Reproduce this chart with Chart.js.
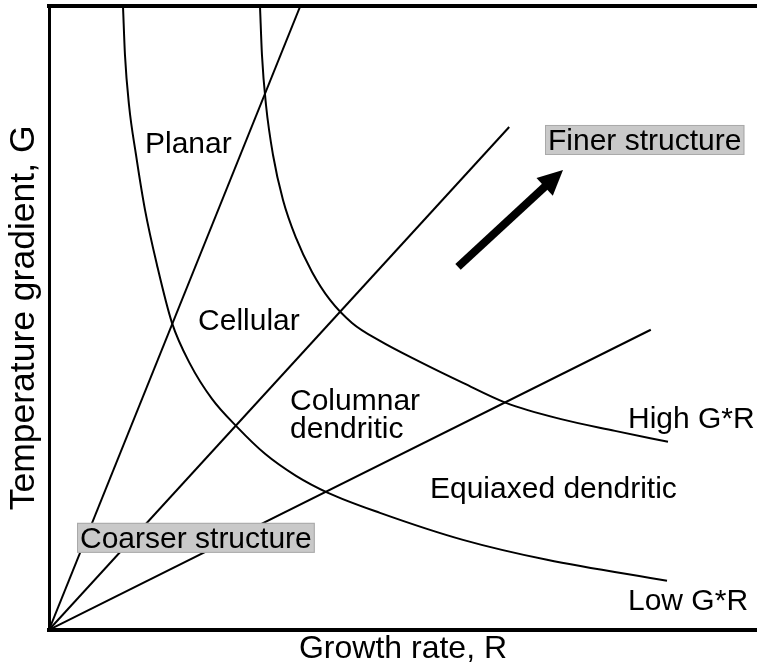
<!DOCTYPE html>
<html>
<head>
<meta charset="utf-8">
<script src="https://cdn.jsdelivr.net/npm/chart.js@4.4.1/dist/chart.umd.min.js"></script>
<style>
  html, body { margin: 0; padding: 0; background: #ffffff; }
  #wrap { width: 757px; height: 667px; }
</style>
</head>
<body>
<div id="wrap"><canvas id="c" width="757" height="667"></canvas></div>
<script>
// ---- Data (arbitrary units: growth rate R on x, temperature gradient G on y, both 0..10) ----
const axisTitles = { x: 'Growth rate, R', y: 'Temperature gradient, G' };

// Straight G/R boundaries from the origin
const lineSteepR = [0, 3.55];
const lineSteepG = [0, 10.0];
const lineMidR   = [0, 6.50];
const lineMidG   = [0, 8.06];
const lineLowR   = [0, 8.50];
const lineLowG   = [0, 4.81];

// G*R = const curves
const lowGRr = [1.045, 1.073, 1.130, 1.229, 1.356, 1.525, 1.737, 1.992, 2.302, 2.655, 3.051, 3.489, 3.941, 4.675, 5.847, 7.034, 8.729];
const lowGRg = [10.00, 9.215, 8.413, 7.612, 6.731, 5.849, 4.920, 4.263, 3.702, 3.253, 2.821, 2.468, 2.196, 1.875, 1.442, 1.122, 0.785];
const highGRr = [2.980, 3.008, 3.065, 3.164, 3.305, 3.489, 3.715, 3.969, 4.280, 4.675, 5.240, 5.847, 6.455, 7.218, 7.994, 8.743];
const highGRg = [10.00, 9.215, 8.413, 7.612, 6.891, 6.282, 5.737, 5.288, 4.920, 4.631, 4.295, 3.958, 3.638, 3.381, 3.189, 3.013];

// Region / curve labels (anchor = left end of baseline, in data units)
const labelTexts = ['Planar', 'Cellular', 'Columnar', 'dendritic', 'Equiaxed dendritic', 'High G*R', 'Low G*R'];
const labelR     = [1.356, 2.105, 3.404, 3.404, 5.381, 8.178, 8.178];
const labelG     = [7.644, 4.808, 3.526, 3.077, 2.115, 3.237, 0.321];

// Boxed labels
const boxTexts = ['Finer structure', 'Coarser structure'];
const boxR     = [7.048, 0.438];
const boxG     = [7.692, 1.314];

// Arrow (tail -> tip)
const arrowR = [5.777, 7.260];
const arrowG = [5.817, 7.372];

function pts(xs, ys) { return xs.map((x, i) => ({ x: x, y: ys[i] })); }

const FONT = '"Liberation Sans", Arial, Helvetica, sans-serif';

const lineDs = (xs, ys, curve) => ({
  data: pts(xs, ys),
  showLine: true,
  borderColor: '#000',
  borderWidth: 2,
  pointRadius: 0,
  fill: false,
  cubicInterpolationMode: curve ? 'monotone' : 'default',
  tension: 0
});

const annotate = {
  id: 'annotate',
  afterDatasetsDraw(chart) {
    const ctx = chart.ctx;
    const xs = chart.scales.x, ys = chart.scales.y;
    ctx.save();
    // arrow
    const x0 = xs.getPixelForValue(arrowR[0]), y0 = ys.getPixelForValue(arrowG[0]);
    const x1 = xs.getPixelForValue(arrowR[1]), y1 = ys.getPixelForValue(arrowG[1]);
    const ang = Math.atan2(y1 - y0, x1 - x0);
    const headLen = 25, headHalf = 12;
    const bx = x1 - headLen * Math.cos(ang), by = y1 - headLen * Math.sin(ang);
    ctx.strokeStyle = '#000';
    ctx.lineWidth = 8;
    ctx.lineCap = 'butt';
    ctx.beginPath();
    ctx.moveTo(x0, y0);
    ctx.lineTo(bx + 2 * Math.cos(ang), by + 2 * Math.sin(ang));
    ctx.stroke();
    ctx.fillStyle = '#000';
    ctx.beginPath();
    ctx.moveTo(x1, y1);
    ctx.lineTo(bx + headHalf * Math.sin(ang), by - headHalf * Math.cos(ang));
    ctx.lineTo(bx - headHalf * Math.sin(ang), by + headHalf * Math.cos(ang));
    ctx.closePath();
    ctx.fill();

    // plain labels
    ctx.font = '30px ' + FONT;
    ctx.textAlign = 'left';
    ctx.textBaseline = 'alphabetic';
    ctx.fillStyle = '#000';
    labelTexts.forEach((t, i) => {
      ctx.fillText(t, xs.getPixelForValue(labelR[i]), ys.getPixelForValue(labelG[i]));
    });
    // boxed labels
    boxTexts.forEach((t, i) => {
      const px = xs.getPixelForValue(boxR[i]), py = ys.getPixelForValue(boxG[i]);
      const w = ctx.measureText(t).width;
      ctx.fillStyle = '#c9c9c9';
      ctx.fillRect(px - 3, py - 25, w + 6, 30);
      ctx.strokeStyle = '#a9a9a9';
      ctx.lineWidth = 1;
      ctx.strokeRect(px - 2.5, py - 24.5, w + 5, 29);
      ctx.fillStyle = '#000';
      ctx.fillText(t, px, py);
    });
    ctx.restore();
  }
};

new Chart(document.getElementById('c'), {
  type: 'scatter',
  data: {
    datasets: [
      lineDs(lineSteepR, lineSteepG, false),
      lineDs(lineMidR, lineMidG, false),
      lineDs(lineLowR, lineLowG, false),
      lineDs(lowGRr, lowGRg, true),
      lineDs(highGRr, highGRg, true)
    ]
  },
  options: {
    responsive: false,
    animation: false,
    layout: { padding: { top: 6, left: 0, right: 0, bottom: 0 } },
    plugins: { legend: { display: false }, tooltip: { enabled: false } },
    scales: {
      x: {
        type: 'linear', position: 'bottom', min: 0, max: 10,
        grid: { display: false, drawTicks: false },
        ticks: { display: false },
        border: { display: true, color: '#000', width: 4 },
        title: { display: true, text: axisTitles.x, color: '#000',
                 font: { family: FONT, size: 32, lineHeight: 1.1 }, padding: { top: 2, bottom: 0 } }
      },
      x2: {
        type: 'linear', position: 'top', min: 0, max: 10,
        grid: { display: false, drawTicks: false },
        ticks: { display: false },
        border: { display: true, color: '#000', width: 4 }
      },
      y: {
        type: 'linear', position: 'left', min: 0, max: 10,
        grid: { display: false, drawTicks: false },
        ticks: { display: false },
        border: { display: true, color: '#000', width: 3 },
        title: { display: true, text: axisTitles.y, color: '#000',
                 font: { family: FONT, size: 35.5, lineHeight: 1.155 }, padding: { top: 4, bottom: 4 } }
      }
    }
  },
  plugins: [annotate]
});
</script>
</body>
</html>
